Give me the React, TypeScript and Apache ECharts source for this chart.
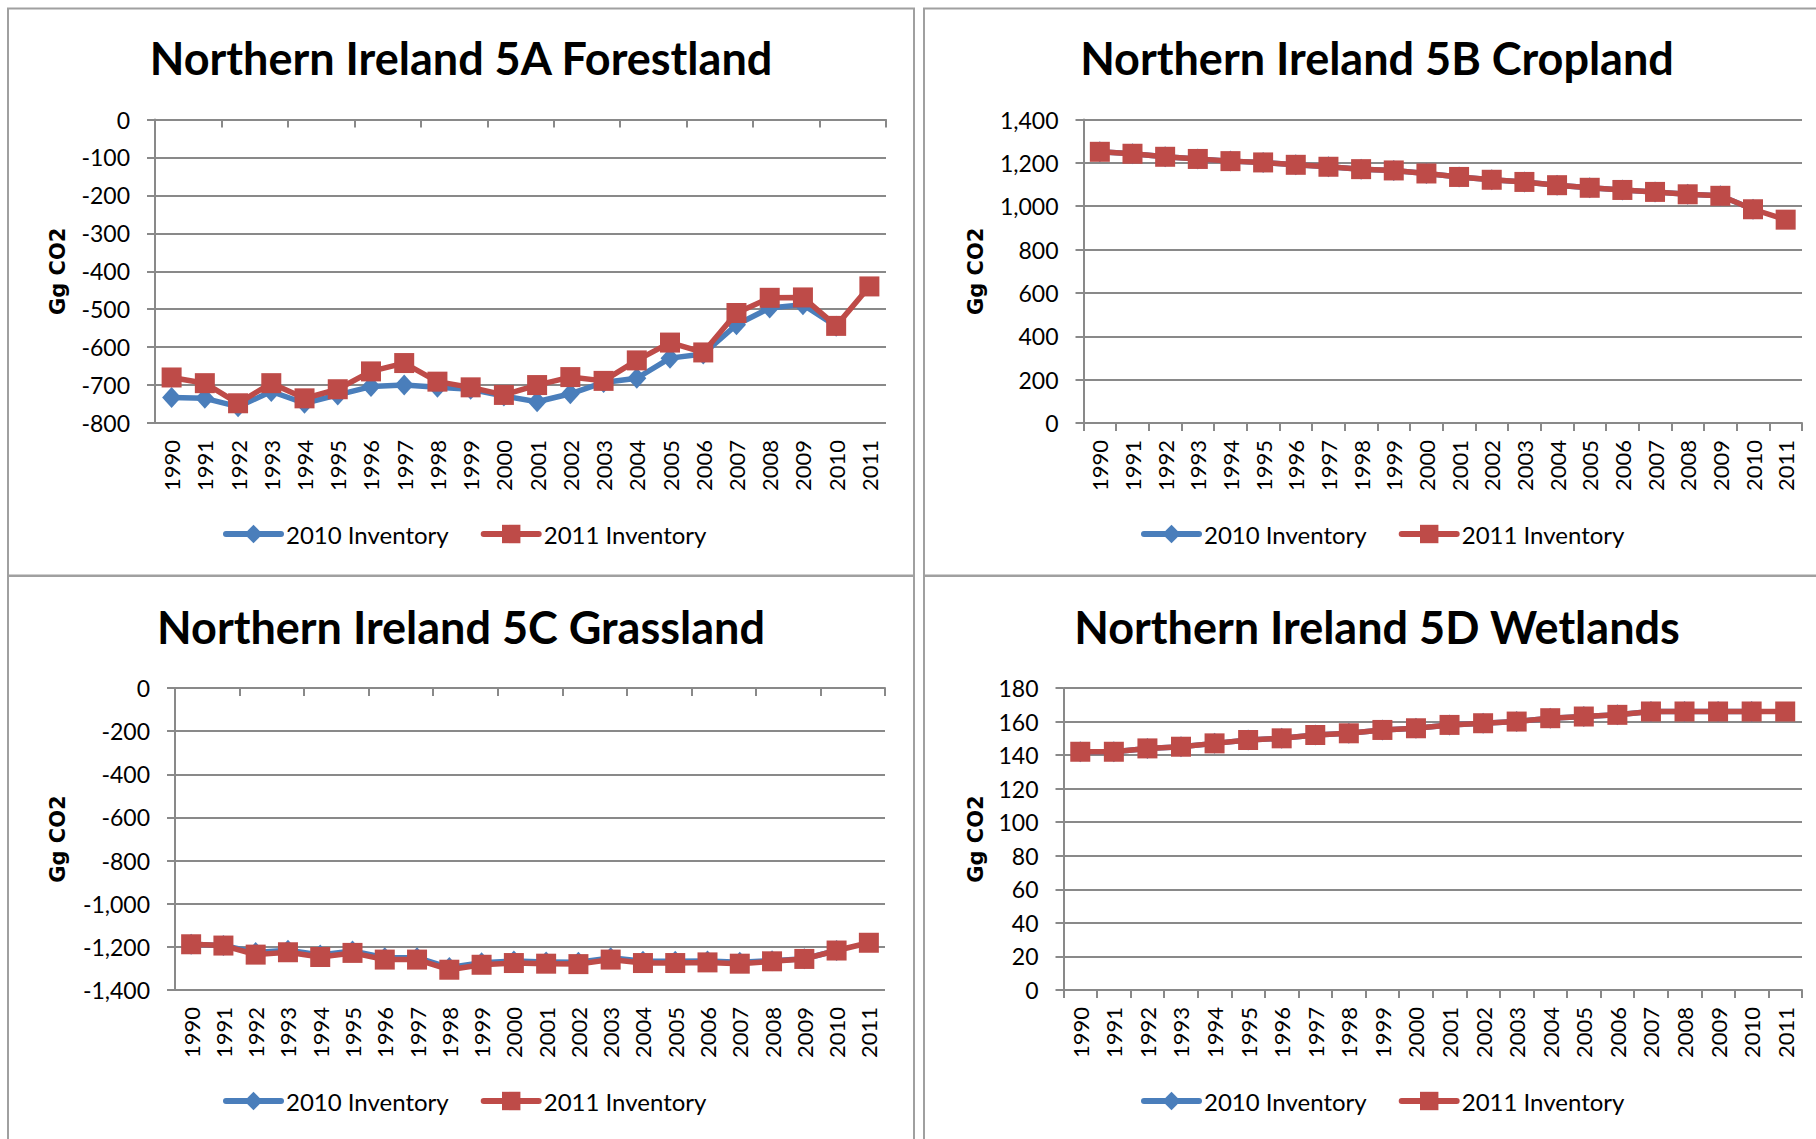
import React, { useEffect, useRef } from "react";
import * as echarts from "echarts";

const years = ["1990","1991","1992","1993","1994","1995","1996","1997","1998","1999","2000","2001","2002","2003","2004","2005","2006","2007","2008","2009","2010","2011"];
const seriesNames = ["2010 Inventory", "2011 Inventory"];

const forest2010 = [-733,-735,-757,-717,-748,-726,-704,-700,-706,-711,-729,-744,-723,-693,-682,-629,-618,-541,-497,-488,-545,null];
const forest2011 = [-680,-695,-748,-695,-735,-711,-664,-642,-691,-706,-726,-700,-679,-689,-635,-588,-614,-510,-470,-469,-544,-440];

const crop2010 = [1251,1242,1228,1218,1208,1202,1191,1182,1171,1165,1151,1135,1122,1112,1097,1085,1075,1066,1055,1048,986,null];
const crop2011 = [1251,1242,1228,1218,1208,1202,1191,1182,1171,1165,1151,1135,1122,1112,1097,1085,1075,1066,1055,1048,986,938];

const grass2010 = [-1188,-1194,-1226,-1216,-1238,-1219,-1250,-1250,-1296,-1274,-1266,-1270,-1271,-1251,-1267,-1267,-1265,-1271,-1264,-1255,-1217,null];
const grass2011 = [-1188,-1194,-1236,-1225,-1247,-1228,-1259,-1259,-1306,-1283,-1275,-1278,-1280,-1259,-1275,-1275,-1272,-1278,-1267,-1256,-1217,-1181];

const wet2010 = [142,142,144,145,147,149,150,152,153,155,156,158,159,160,162,163,164,166,166,166,166,null];
const wet2011 = [142,142,144,145,147,149,150,152,153,155,156,158,159,160,162,163,164,166,166,166,166,166];

const titles = ["Northern Ireland 5A Forestland", "Northern Ireland 5B Cropland", "Northern Ireland 5C Grassland", "Northern Ireland 5D Wetlands"];
const yMin = [-800, 0, -1400, 0];
const yMax = [0, 1400, 0, 180];
const yStep = [100, 200, 200, 20];
const yAxisName = "Gg CO2";

const BLUE = "#4A7EBB";
const RED = "#BE4B48";
const GRID = "#898989";
const BORDER = "#A0A0A0";

const panels = [
  { left: 155, top: 119.5, right: 886, bottom: 423, titleX: 461, titleY: 58, legendX: 223, legendY: 522, nameX: 58, neg: true },
  { left: 1083.5, top: 119.5, right: 1802, bottom: 423, titleX: 1377, titleY: 58, legendX: 1141, legendY: 522, nameX: 976, neg: false },
  { left: 175, top: 688, right: 885, bottom: 990, titleX: 461, titleY: 627, legendX: 223, legendY: 1089, nameX: 58, neg: true },
  { left: 1063.5, top: 688, right: 1802, bottom: 990, titleX: 1377, titleY: 627, legendX: 1141, legendY: 1089, nameX: 976, neg: false },
];

const data2010 = [forest2010, crop2010, grass2010, wet2010];
const data2011 = [forest2011, crop2011, grass2011, wet2011];

function buildOption() {
  const grid: any[] = [];
  const xAxis: any[] = [];
  const yAxis: any[] = [];
  const series: any[] = [];
  const title: any[] = [];
  const legend: any[] = [];
  const graphic: any[] = [];

  const axisLineStyle = { color: GRID, width: 2 };

  panels.forEach((p, i) => {
    grid.push({ left: p.left, top: p.top, width: p.right - p.left, height: p.bottom - p.top, containLabel: false });
    const labelAxisIndex = xAxis.length;
    xAxis.push({
      type: "category",
      gridIndex: i,
      position: "bottom",
      data: years,
      boundaryGap: true,
      axisLine: { show: !p.neg, onZero: false, lineStyle: axisLineStyle },
      axisTick: { show: !p.neg, length: 8, lineStyle: axisLineStyle },
      axisLabel: { rotate: 90, margin: 17, color: "#000", fontSize: 22, fontFamily: "Lato", interval: 0 },
      splitLine: { show: false },
    });
    if (p.neg) {
      xAxis.push({
        type: "category",
        gridIndex: i,
        position: "top",
        data: years,
        boundaryGap: true,
        axisLine: { show: true, onZero: false, lineStyle: axisLineStyle },
        axisTick: { show: true, inside: true, length: 8, lineStyle: axisLineStyle },
        axisLabel: { show: false },
        splitLine: { show: false },
      });
    }
    yAxis.push({
      type: "value",
      gridIndex: i,
      min: yMin[i],
      max: yMax[i],
      interval: yStep[i],
      axisLine: { show: true, lineStyle: axisLineStyle },
      axisTick: { show: true, length: 8, lineStyle: axisLineStyle },
      axisLabel: {
        margin: 25,
        color: "#000",
        fontSize: 23,
        fontFamily: "Lato",
        formatter: (v: number) => v.toLocaleString("en-US"),
      },
      splitLine: { show: true, lineStyle: { color: GRID, width: 2 } },
    });
    series.push({
      name: seriesNames[0],
      type: "line",
      xAxisIndex: labelAxisIndex,
      yAxisIndex: i,
      data: data2010[i],
      symbol: "diamond",
      symbolSize: [19, 21],
      color: BLUE,
      itemStyle: { color: BLUE },
      lineStyle: { color: BLUE, width: 5.5, cap: "round", join: "round" },
      z: 2,
    });
    series.push({
      name: seriesNames[1],
      type: "line",
      xAxisIndex: labelAxisIndex,
      yAxisIndex: i,
      data: data2011[i],
      symbol: "rect",
      symbolSize: 20,
      color: RED,
      itemStyle: { color: RED },
      lineStyle: { color: RED, width: 5.5, cap: "round", join: "round" },
      z: 3,
    });
    title.push({
      text: titles[i],
      left: p.titleX,
      top: p.titleY,
      textAlign: "center",
      textVerticalAlign: "middle",
      padding: 0,
      textStyle: { fontFamily: "Lato", fontWeight: "bold", fontSize: 45, color: "#000" },
    });
    legend.push({
      data: seriesNames,
      left: p.legendX,
      top: p.legendY,
      orient: "horizontal",
      padding: 0,
      itemWidth: 55,
      itemHeight: 23,
      itemGap: 32,
      selectedMode: false,
      lineStyle: { width: 6, cap: "round" },
      textStyle: { fontFamily: "Lato", fontSize: 24, color: "#000" },
    });
    graphic.push({
      type: "text",
      x: p.nameX,
      y: (p.top + p.bottom) / 2,
      rotation: Math.PI / 2,
      style: {
        text: yAxisName,
        font: "bold 21px 'DejaVu Sans'",
        fill: "#000",
        align: "center",
        verticalAlign: "middle",
      },
    });
  });

  const borders = [
    { x: 8, y: 8.5, width: 906, height: 567 },
    { x: 924, y: 8.5, width: 1000, height: 567 },
    { x: 8, y: 576, width: 906, height: 700 },
    { x: 924, y: 576, width: 1000, height: 700 },
  ];
  borders.forEach((b) => {
    graphic.push({
      type: "rect",
      shape: b,
      style: { fill: "none", stroke: BORDER, lineWidth: 2 },
      z: -10,
      silent: true,
    });
  });

  return {
    animation: false,
    backgroundColor: "#fff",
    textStyle: { fontFamily: "Lato" },
    title,
    legend,
    grid,
    xAxis,
    yAxis,
    series,
    graphic,
  };
}

export default function App() {
  const ref = useRef<HTMLDivElement>(null);
  useEffect(() => {
    if (!ref.current) return;
    const chart = echarts.init(ref.current, null, { renderer: "svg" });
    chart.setOption(buildOption() as any);
    return () => chart.dispose();
  }, []);
  return (
    <div
      ref={ref}
      style={{ position: "absolute", left: 0, top: 0, width: 1816, height: 1139, background: "#fff" }}
    />
  );
}
